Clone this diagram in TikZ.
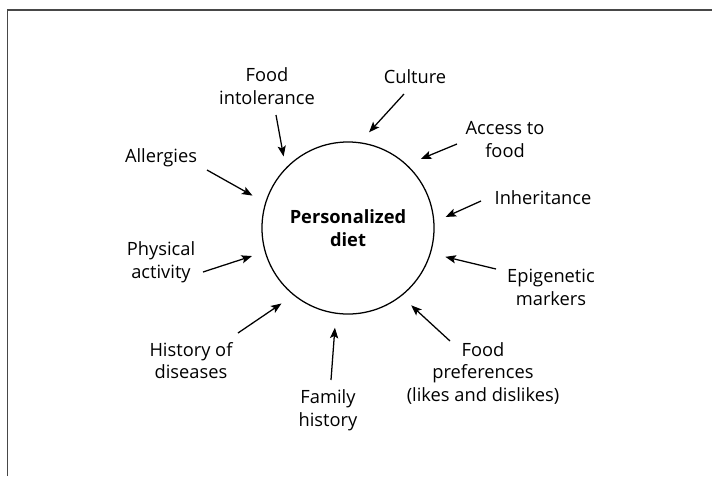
\documentclass[tikz,border=0pt]{standalone}
\usepackage{fontspec}
\setmainfont{Open Sans}
\usetikzlibrary{arrows.meta}

\tikzset{
  factor/.style={align=center, inner sep=1pt, font=\fontsize{13}{16}\selectfont},
  feed/.style={-{Stealth[length=7.5pt,width=5.8pt,inset=1.6pt]}, line width=0.9pt, shorten >=9.5pt},
}

\begin{document}
\begin{tikzpicture}[x=0.025cm, y=-0.025cm]
    \useasboundingbox (0,0) rectangle (712,476);
    \draw[black!72, line width=1.1pt] (7.5,476) -- (7.5,10) -- (712,10);

    \node[draw, circle, line width=0.9pt, minimum size=4.3cm, inner sep=0pt,
          align=center, font=\fontsize{13}{16}\selectfont\bfseries] (diet) at (348,228) {Personalized\\diet};

    \node[factor] (intolerance) at (267,86) {Food\\intolerance};
    \node[factor] (culture) at (415,77) {Culture};
    \node[factor] (access) at (505,139.5) {Access to\\food};
    \node[factor] (allergies) at (161,158) {Allergies};
    \node[factor] (inheritance) at (543,198) {Inheritance};
    \node[factor] (physical) at (161,262) {Physical\\activity};
    \node[factor] (epigenetic) at (551,287.5) {Epigenetic\\markers};
    \node[factor] (diseases) at (191,360.5) {History of\\diseases};
    \node[factor] (family) at (328,410) {Family\\history};
    \node[factor] (preferences) at (483,373) {Food\\preferences\\(likes and dislikes)};

    % arrow tails, just off each label
    \coordinate (intolerance-t) at (276,115);
    \coordinate (culture-t) at (404,94);
    \coordinate (access-t) at (457,144);
    \coordinate (allergies-t) at (207,170);
    \coordinate (inheritance-t) at (481,201);
    \coordinate (physical-t) at (203,272);
    \coordinate (epigenetic-t) at (496,269);
    \coordinate (diseases-t) at (238,333);
    \coordinate (family-t) at (331,380);
    \coordinate (preferences-t) at (450,341);

    \draw[feed, shorten >=8.2pt] (intolerance-t) -- (diet.136);
    \draw[feed] (culture-t) -- (diet.82.6);
    \draw[feed, shorten >=10.6pt] (access-t) -- (diet.47.5);
    \draw[feed, shorten >=10.3pt] (allergies-t) -- (diet.163.2);
    \draw[feed, shorten >=8.7pt] (inheritance-t) -- (diet.4);
    \draw[feed] (physical-t) -- (diet.196.2);
    \draw[feed, shorten >=10.6pt] (epigenetic-t) -- (diet.343.6);
    \draw[feed, shorten >=10.3pt] (diseases-t) -- (diet.231);
    \draw[feed, shorten >=9.9pt] (family-t) -- (diet.262);
    \draw[feed] (preferences-t) -- (diet.308);
\end{tikzpicture}
\end{document}
